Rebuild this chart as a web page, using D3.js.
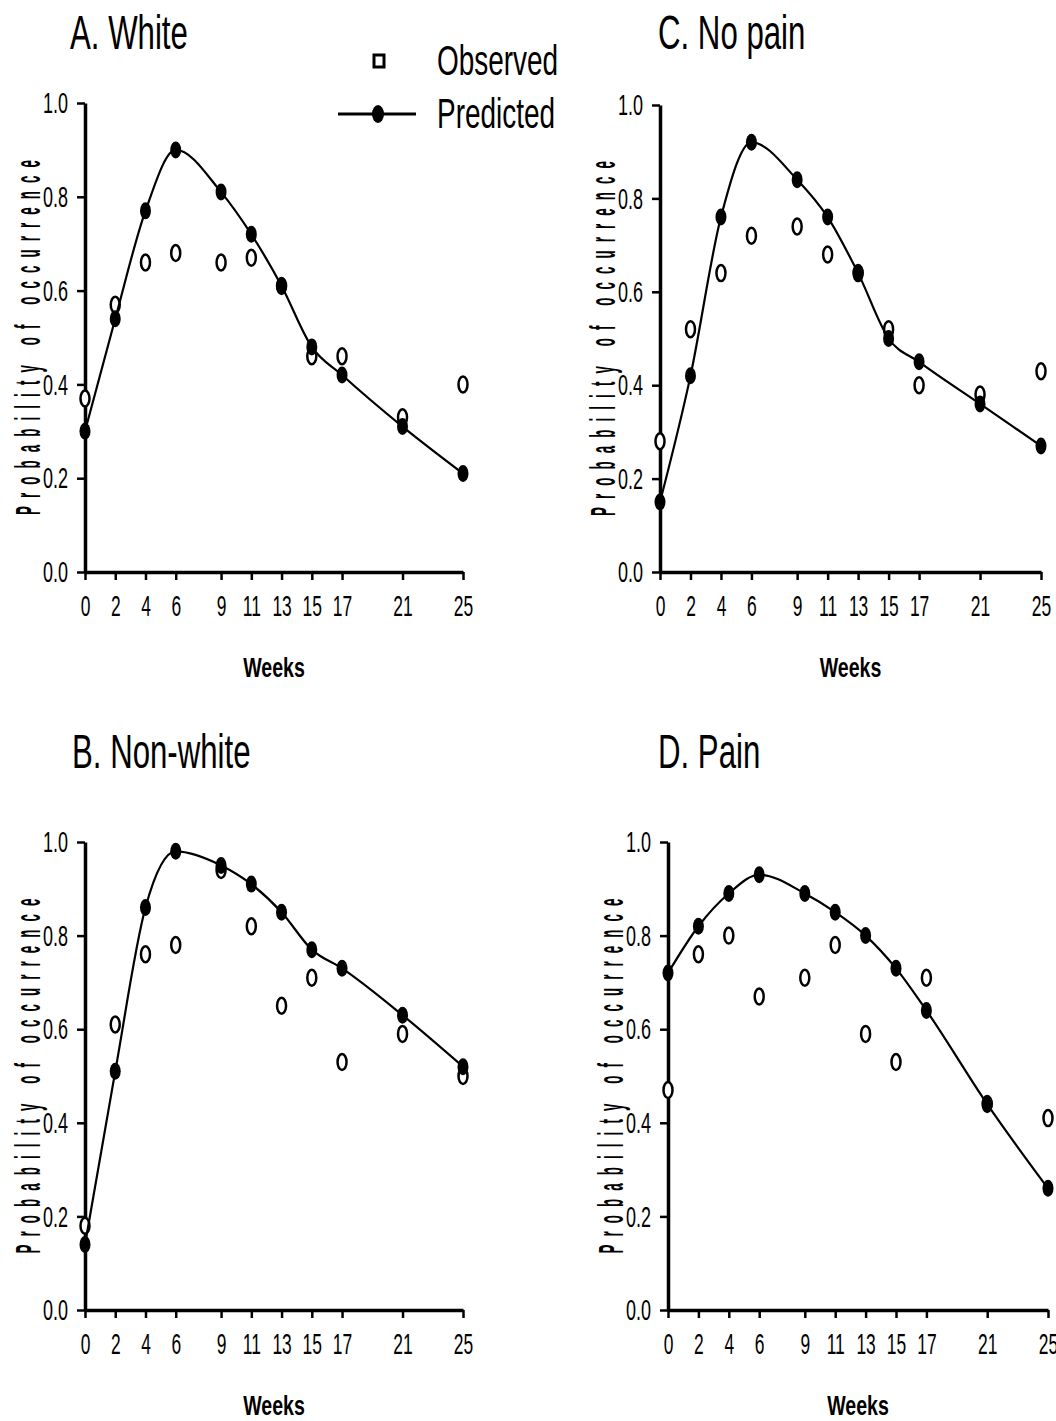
<!DOCTYPE html>
<html>
<head>
<meta charset="utf-8">
<script src="https://cdn.jsdelivr.net/npm/d3@7"></script>
<style>
  body { margin: 0; background: #fff; }
  svg { display: block; font-family: "Liberation Sans", Arial, sans-serif; }
</style>
</head>
<body>
<div id="chart"></div>
<script>
// weeks of follow-up (x categories)
const weeks = [0, 2, 4, 6, 9, 11, 13, 15, 17, 21, 25];
const yTicks = [0, 0.2, 0.4, 0.6, 0.8, 1.0];

// A. White
const whiteObs  = [0.37, 0.57, 0.66, 0.68, 0.66, 0.67, 0.61, 0.46, 0.46, 0.33, 0.40];
const whitePred = [0.30, 0.54, 0.77, 0.90, 0.81, 0.72, 0.61, 0.48, 0.42, 0.31, 0.21];
// B. Non-white
const nonWhiteObs  = [0.18, 0.61, 0.76, 0.78, 0.94, 0.82, 0.65, 0.71, 0.53, 0.59, 0.50];
const nonWhitePred = [0.14, 0.51, 0.86, 0.98, 0.95, 0.91, 0.85, 0.77, 0.73, 0.63, 0.52];
// C. No pain
const noPainObs  = [0.28, 0.52, 0.64, 0.72, 0.74, 0.68, 0.64, 0.52, 0.40, 0.38, 0.43];
const noPainPred = [0.15, 0.42, 0.76, 0.92, 0.84, 0.76, 0.64, 0.50, 0.45, 0.36, 0.27];
// D. Pain
const painObs  = [0.47, 0.76, 0.80, 0.67, 0.71, 0.78, 0.59, 0.53, 0.71, 0.44, 0.41];
const painPred = [0.72, 0.82, 0.89, 0.93, 0.89, 0.85, 0.80, 0.73, 0.64, 0.44, 0.26];

const width = 1056, height = 1421;
const squash = 0.65; // the original figure is horizontally condensed

const panels = [
  { title: "A. White",     obs: whiteObs,    pred: whitePred,    x0: 85,  x1: 463,  y0: 572,  y1: 103, tx: 70,  ty: 49 },
  { title: "C. No pain",   obs: noPainObs,   pred: noPainPred,   x0: 660, x1: 1041, y0: 572,  y1: 105, tx: 658, ty: 49 },
  { title: "B. Non-white", obs: nonWhiteObs, pred: nonWhitePred, x0: 85,  x1: 463,  y0: 1310, y1: 842, tx: 72,  ty: 768 },
  { title: "D. Pain",      obs: painObs,     pred: painPred,     x0: 668, x1: 1048, y0: 1310, y1: 842, tx: 658, ty: 768 }
];

const svg = d3.select("#chart")
  .append("svg")
  .attr("width", width)
  .attr("height", height);

// condensed text helper
function label(g, x, y, str, size, opts = {}) {
  const t = g.append("g")
    .attr("transform", `translate(${x},${y}) ${opts.rotate ? "rotate(-90)" : ""} scale(${opts.sx || squash},1)`)
    .append("text")
    .attr("text-anchor", opts.anchor || "start")
    .attr("font-size", size)
    .attr("font-weight", opts.weight || "normal")
    .attr("fill", "#000")
    .text(str);
  if (opts.length) t.attr("textLength", opts.length).attr("lengthAdjust", "spacing");
  return t;
}

panels.forEach(p => {
  const g = svg.append("g");

  const x = d3.scaleLinear().domain([0, 25]).range([p.x0, p.x1]);
  const y = d3.scaleLinear().domain([0, 1]).range([p.y0, p.y1]);

  // X axis
  const xAxis = g.append("g")
    .attr("transform", `translate(0,${p.y0})`)
    .call(d3.axisBottom(x).tickValues(weeks).tickSize(8).tickSizeOuter(0).tickPadding(15).tickFormat(d3.format("d")));
  xAxis.select(".domain").attr("stroke-width", 3.5);
  xAxis.selectAll(".tick line").attr("stroke-width", 2.5);
  xAxis.selectAll(".tick text")
    .attr("font-size", 30)
    .attr("font-family", "Liberation Sans, Arial, sans-serif")
    .attr("transform", `scale(0.58,1)`);

  // Y axis
  const yAxis = g.append("g")
    .attr("transform", `translate(${p.x0},0)`)
    .call(d3.axisLeft(y).tickValues(yTicks).tickSize(8).tickSizeOuter(0).tickPadding(9).tickFormat(d3.format(".1f")));
  yAxis.select(".domain").attr("stroke-width", 3.5);
  yAxis.selectAll(".tick line").attr("stroke-width", 2.5);
  yAxis.selectAll(".tick text")
    .attr("font-size", 30)
    .attr("font-family", "Liberation Sans, Arial, sans-serif")
    .attr("transform", `translate(-17,0) scale(0.6,1)`)
    .attr("x", 0);

  // titles
  label(g, p.tx, p.ty, p.title, 48);
  label(g, (p.x0 + p.x1) / 2, p.y0 + 105, "Weeks", 28, { anchor: "middle", weight: "bold", sx: 0.7 });
  label(g, p.x0 - 45, (p.y0 + p.y1) / 2, "Probability of occurrence", 35,
    { anchor: "middle", weight: "bold", rotate: true, sx: 0.38, length: 355 / 0.38 });

  const rows = weeks.map((w, i) => ({ w, obs: p.obs[i], pred: p.pred[i] }));

  // observed points (drawn underneath)
  g.selectAll(".obs")
    .data(rows)
    .enter()
    .append("ellipse")
    .attr("cx", d => x(d.w))
    .attr("cy", d => y(d.obs))
    .attr("rx", 4.5)
    .attr("ry", 8)
    .attr("fill", "#fff")
    .attr("stroke", "#000")
    .attr("stroke-width", 2.5);

  // predicted line
  const line = d3.line().x(d => x(d.w)).y(d => y(d.pred)).curve(d3.curveMonotoneX);
  g.append("path")
    .datum(rows)
    .attr("d", line)
    .attr("fill", "none")
    .attr("stroke", "#000")
    .attr("stroke-width", 2.2);

  // predicted points
  g.selectAll(".pred")
    .data(rows)
    .enter()
    .append("ellipse")
    .attr("cx", d => x(d.w))
    .attr("cy", d => y(d.pred))
    .attr("rx", 5.5)
    .attr("ry", 8.5)
    .attr("fill", "#000");
});

// Legend
const lg = svg.append("g");
lg.append("rect")
  .attr("x", 374).attr("y", 55).attr("width", 10).attr("height", 12)
  .attr("fill", "#fff").attr("stroke", "#000").attr("stroke-width", 3);
lg.append("line")
  .attr("x1", 338).attr("x2", 416).attr("y1", 114).attr("y2", 114)
  .attr("stroke", "#000").attr("stroke-width", 3);
lg.append("ellipse")
  .attr("cx", 378).attr("cy", 114).attr("rx", 6).attr("ry", 9).attr("fill", "#000");
label(lg, 437, 75, "Observed", 43);
label(lg, 437, 128, "Predicted", 43);
</script>
</body>
</html>
